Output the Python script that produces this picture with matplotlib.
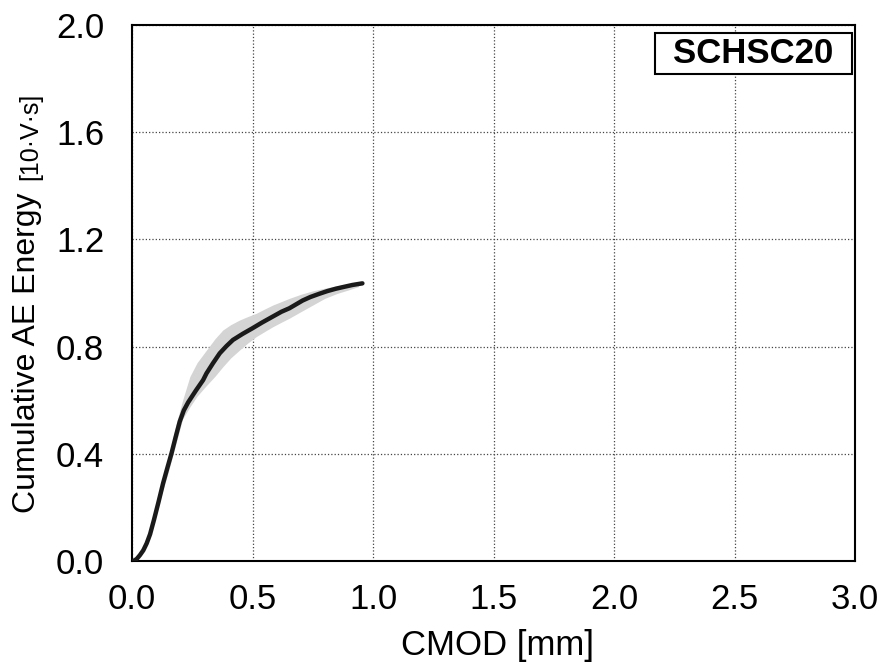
import numpy as np
import matplotlib.pyplot as plt
from matplotlib.patches import Rectangle

plt.rcParams["font.family"] = ["Liberation Sans", "DejaVu Sans"]

# mean curve, CMOD [mm] vs cumulative AE energy
cmod = [0.0, 0.01, 0.02, 0.033, 0.047, 0.061, 0.075, 0.091, 0.11, 0.129, 0.146,
        0.164, 0.181, 0.198, 0.215, 0.233, 0.265, 0.295, 0.309, 0.336, 0.364,
        0.392, 0.419, 0.46, 0.499, 0.54, 0.584, 0.62, 0.653, 0.708, 0.74,
        0.777, 0.81, 0.846, 0.88, 0.915, 0.956]
energy = [0.0, 0.002, 0.008, 0.022, 0.04, 0.066, 0.10, 0.153, 0.22, 0.290, 0.345,
          0.402, 0.462, 0.52, 0.562, 0.592, 0.636, 0.675, 0.700, 0.738, 0.775,
          0.802, 0.825, 0.848, 0.868, 0.890, 0.912, 0.930, 0.943, 0.972, 0.985,
          0.997, 1.007, 1.016, 1.023, 1.030, 1.036]

# scatter band of the individual specimens
band_x = [0.12, 0.15, 0.18, 0.21, 0.24, 0.27, 0.309, 0.345, 0.377, 0.41, 0.446,
          0.48, 0.515, 0.55, 0.584, 0.62, 0.653, 0.70, 0.75, 0.80, 0.85, 0.90, 0.94]
band_hi = [0.26, 0.38, 0.50, 0.60, 0.688, 0.74, 0.787, 0.83, 0.862, 0.882, 0.899,
           0.912, 0.924, 0.940, 0.955, 0.968, 0.980, 0.995, 1.008, 1.018, 1.027, 1.034, 1.038]
band_lo = [0.24, 0.33, 0.43, 0.53, 0.575, 0.615, 0.655, 0.69, 0.725, 0.758, 0.787,
           0.813, 0.837, 0.856, 0.874, 0.891, 0.906, 0.93, 0.955, 0.98, 0.998, 1.012, 1.024]

xticks = np.arange(0, 3.01, 0.5)
yticks = np.arange(0, 2.01, 0.4)

fig = plt.figure(figsize=(8.88, 6.68), dpi=100)
ax = fig.add_axes([132 / 888, 107 / 668, 723 / 888, 536 / 668])

ax.fill_between(band_x, band_lo, band_hi, color="#d4d4d4", lw=0, zorder=2)
ax.plot(cmod, energy, color="#1a1a1a", lw=3.2, solid_capstyle="round",
        solid_joinstyle="round", zorder=3)

ax.set_xlim(0, 3.0)
ax.set_ylim(0, 2.0)
ax.set_xticks(xticks)
ax.set_yticks(yticks)
ax.set_xticklabels([f"{v:.1f}" for v in xticks])
ax.set_yticklabels([f"{v:.1f}" for v in yticks])
ax.tick_params(length=0, labelsize=25)
ax.tick_params(axis="x", pad=16)
ax.tick_params(axis="y", pad=20)
ax.grid(True, color="#444444", ls=":", lw=0.9)
ax.set_axisbelow(True)
for s in ax.spines.values():
    s.set_linewidth(1.5)

fig.text(497 / 888, (668 - 655) / 668, "CMOD [mm]", ha="center", va="baseline", fontsize=25)

fig.text(42 / 888, (668 - 513) / 668, "Cumulative AE Energy", rotation=90,
         ha="right", va="bottom", fontsize=23)
fig.text(42 / 888, (668 - 180) / 668, "[10·V·s]", rotation=90,
         ha="right", va="bottom", fontsize=18)

ax.add_patch(Rectangle((0.723, 0.9086), 0.273, 0.077, transform=ax.transAxes,
                       fc="white", ec="black", lw=1.5, zorder=5))
ax.text(0.8597, 0.947, "SCHSC20", transform=ax.transAxes, ha="center", va="center",
        fontsize=25, fontweight="bold", zorder=6)

fig.savefig("out.png", dpi=100)
